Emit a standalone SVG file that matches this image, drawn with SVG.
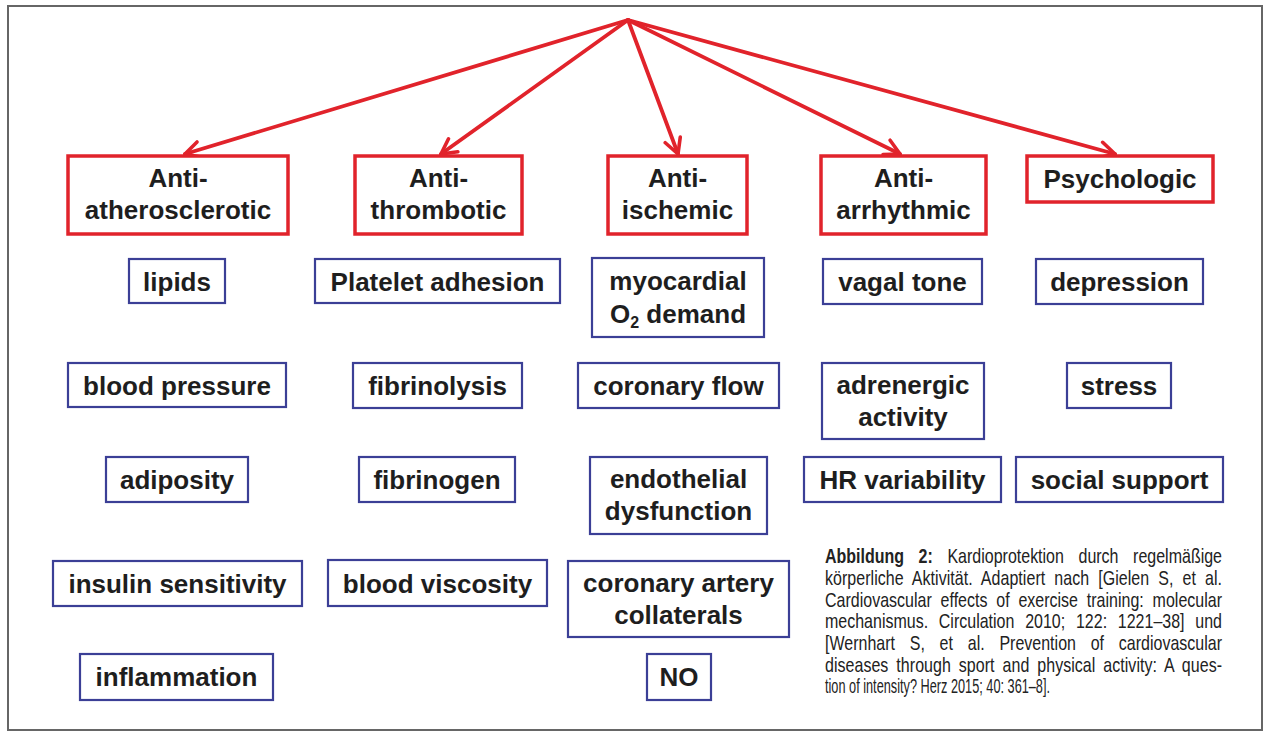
<svg xmlns="http://www.w3.org/2000/svg" width="1266" height="737" viewBox="0 0 1266 737">
<defs>
<style>
.frame{fill:#fff;stroke:#666;stroke-width:2}
.hdr{fill:#fff;stroke:#e1232b;stroke-width:3.5}
.box{fill:#fff;stroke:#3b3f96;stroke-width:2.2}
.t{font-family:"Liberation Sans",Arial,sans-serif;font-weight:bold;font-size:26px;fill:#1e1e1e;text-anchor:middle}
.sub{font-size:16px}
.arr{stroke:#e1232b;stroke-width:3.8;fill:none;stroke-linecap:round}
.cap{font-family:"Liberation Sans",Arial,sans-serif;font-size:20.5px;fill:#222}
</style>
<marker id="ah" viewBox="0 0 20 20" refX="18" refY="10" markerWidth="20" markerHeight="20" markerUnits="userSpaceOnUse" orient="auto">
<path d="M3,2 L18,10 L3,18" fill="none" stroke="#e1232b" stroke-width="3.6" stroke-linecap="round" stroke-linejoin="round"/>
</marker>
</defs>
<rect x="0" y="0" width="1266" height="737" fill="#fff"/>
<rect class="frame" x="8" y="6" width="1254" height="724"/>

<g id="connectors">
<line class="arr" x1="628" y1="20" x2="185" y2="154" marker-end="url(#ah)"/>
<line class="arr" x1="628" y1="20" x2="441" y2="154" marker-end="url(#ah)"/>
<line class="arr" x1="628" y1="20" x2="678" y2="154" marker-end="url(#ah)"/>
<line class="arr" x1="628" y1="20" x2="900" y2="154" marker-end="url(#ah)"/>
<line class="arr" x1="628" y1="20" x2="1115" y2="154" marker-end="url(#ah)"/>
</g>

<g id="h-atherosclerotic"><rect class="hdr" x="68" y="156" width="220" height="78"/><text class="t" x="178" y="187">Anti-</text><text class="t" x="178" y="219">atherosclerotic</text></g>
<g id="h-thrombotic"><rect class="hdr" x="355" y="156" width="167" height="78"/><text class="t" x="438.5" y="187">Anti-</text><text class="t" x="438.5" y="219">thrombotic</text></g>
<g id="h-ischemic"><rect class="hdr" x="608" y="156" width="139" height="78"/><text class="t" x="677.5" y="187">Anti-</text><text class="t" x="677.5" y="219">ischemic</text></g>
<g id="h-arrhythmic"><rect class="hdr" x="821" y="156" width="165" height="78"/><text class="t" x="903.5" y="187">Anti-</text><text class="t" x="903.5" y="219">arrhythmic</text></g>
<g id="h-psychologic"><rect class="hdr" x="1027" y="156" width="186" height="46"/><text class="t" x="1120" y="188">Psychologic</text></g>

<g id="lipids"><rect class="box" x="129" y="259" width="96" height="44"/><text class="t" x="177" y="291">lipids</text></g>
<g id="blood-pressure"><rect class="box" x="68" y="363" width="218" height="44"/><text class="t" x="177" y="395">blood pressure</text></g>
<g id="adiposity"><rect class="box" x="106" y="457" width="142" height="45"/><text class="t" x="177" y="489">adiposity</text></g>
<g id="insulin"><rect class="box" x="53" y="561" width="249" height="45"/><text class="t" x="177.5" y="593">insulin sensitivity</text></g>
<g id="inflammation"><rect class="box" x="80" y="654" width="193" height="46"/><text class="t" x="176.5" y="686">inflammation</text></g>

<g id="platelet"><rect class="box" x="315" y="259" width="245" height="44"/><text class="t" x="437.5" y="291">Platelet adhesion</text></g>
<g id="fibrinolysis"><rect class="box" x="353" y="363" width="169" height="45"/><text class="t" x="437.5" y="395">fibrinolysis</text></g>
<g id="fibrinogen"><rect class="box" x="359" y="457" width="156" height="45"/><text class="t" x="437" y="489">fibrinogen</text></g>
<g id="viscosity"><rect class="box" x="328" y="560" width="219" height="46"/><text class="t" x="437.5" y="593">blood viscosity</text></g>

<g id="myocardial"><rect class="box" x="592" y="258" width="172" height="79"/><text class="t" x="678" y="290">myocardial</text><text class="t" x="678" y="323">O<tspan class="sub" dy="5">2</tspan><tspan dy="-5"> demand</tspan></text></g>
<g id="coronary-flow"><rect class="box" x="578" y="363" width="201" height="45"/><text class="t" x="678.5" y="395">coronary flow</text></g>
<g id="endothelial"><rect class="box" x="590" y="457" width="177" height="77"/><text class="t" x="678.5" y="488">endothelial</text><text class="t" x="678.5" y="520">dysfunction</text></g>
<g id="collaterals"><rect class="box" x="568" y="561" width="221" height="76"/><text class="t" x="678.5" y="592">coronary artery</text><text class="t" x="678.5" y="624">collaterals</text></g>
<g id="no"><rect class="box" x="647" y="654" width="64" height="46"/><text class="t" x="679" y="686">NO</text></g>

<g id="vagal"><rect class="box" x="823" y="259" width="159" height="45"/><text class="t" x="902.5" y="291">vagal tone</text></g>
<g id="adrenergic"><rect class="box" x="822" y="363" width="162" height="76"/><text class="t" x="903" y="394">adrenergic</text><text class="t" x="903" y="426">activity</text></g>
<g id="hrv"><rect class="box" x="804" y="457" width="197" height="45"/><text class="t" x="902.5" y="489">HR variability</text></g>

<g id="depression"><rect class="box" x="1036" y="259" width="167" height="45"/><text class="t" x="1119.5" y="291">depression</text></g>
<g id="stress"><rect class="box" x="1067" y="363" width="104" height="45"/><text class="t" x="1119" y="395">stress</text></g>
<g id="social"><rect class="box" x="1016" y="457" width="207" height="45"/><text class="t" x="1119.5" y="489">social support</text></g>

<g id="caption" transform="translate(825,0) scale(0.78,1)">
<text class="cap" x="0" y="563" word-spacing="13" textLength="509" lengthAdjust="spacing"><tspan font-weight="bold">Abbildung 2:</tspan> Kardioprotektion durch regelmäßige</text>
<text class="cap" x="0" y="585" word-spacing="5.9" textLength="509" lengthAdjust="spacing">körperliche Aktivität. Adaptiert nach [Gielen S, et al.</text>
<text class="cap" x="0" y="607" word-spacing="5.6" textLength="509" lengthAdjust="spacing">Cardiovascular effects of exercise training: molecular</text>
<text class="cap" x="0" y="628" word-spacing="8.1" textLength="509" lengthAdjust="spacing">mechanismus. Circulation 2010; 122: 1221–38] und</text>
<text class="cap" x="0" y="650" word-spacing="13.2" textLength="509" lengthAdjust="spacing">[Wernhart S, et al. Prevention of cardiovascular</text>
<text class="cap" x="0" y="672" word-spacing="4.5" textLength="509" lengthAdjust="spacing">diseases through sport and physical activity: A ques-</text>
<text class="cap" x="0" y="693" textLength="288.5" lengthAdjust="spacingAndGlyphs">tion of intensity? Herz 2015; 40: 361–8].</text>
</g>
</svg>
